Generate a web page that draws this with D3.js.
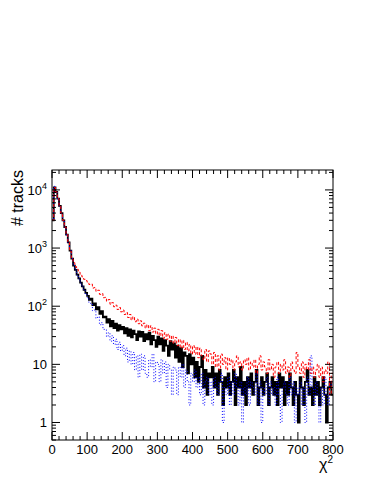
<!DOCTYPE html>
<html>
<head>
<meta charset="utf-8">
<script src="https://cdn.jsdelivr.net/npm/d3@7"></script>
<style>
  body { margin: 0; background: #fff; }
  text { font-family: "Liberation Sans", Arial, sans-serif; fill: #000; }
</style>
</head>
<body>
<div id="plot"></div>
<script>
// bin width 5, range 0..800
var binWidth = 5;

var black = [
  3000, 11000, 9200, 7100, 5300, 4000, 3000, 2300, 1700, 1250,
  900, 660, 500, 420, 350, 300, 255, 220, 192, 170,
  150, 128, 135, 104, 112, 88, 96, 74, 82, 64,
  66, 52, 60, 45, 56, 42, 50, 38, 47, 40,
  44, 34, 42, 31, 40, 29, 38, 33, 26, 37,
  30, 36, 25, 33, 27, 35, 22, 31, 26, 20,
  30, 22, 28, 17, 26, 21, 14, 25, 18, 23,
  13, 21, 11, 19, 9, 16, 14, 7, 15, 10,
  13, 6, 11, 5, 9, 14, 4, 8, 3, 7,
  6, 9, 4, 7, 3, 8, 5, 2, 6, 4,
  7, 3, 5, 8, 2, 6, 4, 9, 3, 5,
  2, 6, 4, 7, 3, 5, 8, 2, 4, 6,
  3, 5, 7, 2, 4, 6, 3, 5, 2, 7,
  4, 6, 2, 5, 3, 7, 4, 2, 5, 3,
  1, 6, 4, 2, 5, 8, 3, 4, 2, 6,
  3, 5, 2, 4, 6, 3, 1, 4, 5, 3
];

var red = [
  3000, 11000, 9200, 7100, 5300, 4000, 3000, 2300, 1700, 1250,
  880, 680, 560, 480, 430, 385, 345, 320, 290, 275,
  258, 236, 240, 205, 210, 180, 188, 160, 165, 140,
  142, 122, 130, 108, 115, 98, 104, 88, 95, 80,
  86, 72, 78, 64, 72, 58, 66, 54, 60, 50,
  56, 46, 51, 42, 48, 38, 46, 36, 42, 33,
  40, 31, 38, 28, 35, 27, 33, 25, 31, 23,
  29, 21, 27, 19, 26, 18, 24, 17, 22, 15,
  21, 15, 20, 13, 19, 14, 12, 18, 11, 17,
  15, 10, 16, 9, 14, 8, 15, 10, 13, 8,
  13, 10, 12, 8, 11, 14, 9, 11, 8, 12,
  10, 13, 8, 11, 9, 12, 7, 10, 14, 8,
  11, 9, 7, 12, 8, 10, 6, 9, 11, 7,
  10, 8, 12, 7, 9, 6, 11, 8, 7, 16,
  9, 7, 11, 6, 10, 8, 12, 7, 9, 6,
  8, 10, 6, 9, 5, 8, 7, 11, 3, 7
];

var blue = [
  3000, 11500, 9300, 7100, 5300, 4000, 3000, 2300, 1700, 1250,
  900, 660, 500, 420, 345, 295, 250, 215, 185, 162,
  140, 112, 110, 84, 86, 62, 66, 48, 52, 40,
  40, 30, 35, 25, 31, 22, 27, 18, 24, 17,
  21, 14, 19, 11, 17, 10, 16, 8, 14, 6,
  15, 8, 14, 7, 6, 12, 9, 15, 5, 11,
  10, 5, 12, 7, 11, 4, 10, 8, 3, 9,
  8, 3, 9, 6, 10, 4, 8, 5, 2, 7,
  5, 8, 4, 6, 3, 7, 2, 5, 6, 3,
  5, 2, 6, 4, 3, 5, 7, 1, 4, 3,
  6, 2, 5, 3, 7, 4, 2, 5, 1, 4,
  3, 6, 2, 5, 4, 3, 7, 2, 5, 1,
  4, 3, 6, 2, 5, 3, 4, 2, 6, 3,
  1, 4, 5, 3, 2, 6, 3, 5, 1, 4,
  3, 5, 2, 4, 1, 6, 3, 14, 4, 2,
  5, 3, 1, 4, 2, 6, 3, 2, 5, 4
];

var xMajor = [0, 100, 200, 300, 400, 500, 600, 700, 800];
var yDecades = [1, 10, 100, 1000, 10000];
var yLabels = [["1", ""], ["10", ""], ["10", "2"], ["10", "3"], ["10", "4"]];

var W = 374, H = 484;
var frameL = 52, frameR = 333, frameT = 170, frameB = 440;

var svg = d3.select("#plot").append("svg")
  .attr("width", W).attr("height", H);

var x = d3.scaleLinear().domain([0, 800]).range([frameL, frameR]);
var y = d3.scaleLog().domain([0.5, 2.2e4]).range([frameB, frameT]);

svg.append("clipPath").attr("id", "frameClip")
  .append("rect").attr("x", frameL).attr("y", frameT)
  .attr("width", frameR - frameL).attr("height", frameB - frameT);

// step path for a histogram
function histPoints(vals) {
  var pts = [];
  vals.forEach(function (v, i) {
    pts.push([i * binWidth, v]);
    pts.push([(i + 1) * binWidth, v]);
  });
  return pts;
}

var line = d3.line()
  .x(function (d) { return x(d[0]); })
  .y(function (d) { return y(d[1]); });

var g = svg.append("g").attr("clip-path", "url(#frameClip)");

g.append("path").datum(histPoints(black))
  .attr("d", line).attr("fill", "none")
  .attr("stroke", "#000").attr("stroke-width", 1.8);

g.append("path").datum(histPoints(blue))
  .attr("d", line).attr("fill", "none")
  .attr("stroke", "#0000ff").attr("stroke-width", 1)
  .attr("stroke-dasharray", "1,2");

g.append("path").datum(histPoints(red))
  .attr("d", line).attr("fill", "none")
  .attr("stroke", "#ff0000").attr("stroke-width", 1)
  .attr("stroke-dasharray", "3,2");

// frame
svg.append("rect").attr("x", frameL).attr("y", frameT)
  .attr("width", frameR - frameL).attr("height", frameB - frameT)
  .attr("fill", "none").attr("stroke", "#000").attr("stroke-width", 1);

// x ticks
var xMinor = d3.range(0, 801, 20).filter(function (v) { return v % 100 != 0; });
var tickG = svg.append("g").attr("stroke", "#000").attr("stroke-width", 1);

xMajor.forEach(function (v) {
  tickG.append("line").attr("x1", x(v)).attr("x2", x(v)).attr("y1", frameB).attr("y2", frameB - 8);
  tickG.append("line").attr("x1", x(v)).attr("x2", x(v)).attr("y1", frameT).attr("y2", frameT + 8);
});
xMinor.forEach(function (v) {
  tickG.append("line").attr("x1", x(v)).attr("x2", x(v)).attr("y1", frameB).attr("y2", frameB - 4);
  tickG.append("line").attr("x1", x(v)).attr("x2", x(v)).attr("y1", frameT).attr("y2", frameT + 4);
});

// y ticks (log)
var yMinor = [];
[0.1, 1, 10, 100, 1000, 10000].forEach(function (d) {
  for (var k = 2; k <= 9; k++) {
    var v = d * k;
    if (v >= 0.5 && v <= 2.2e4) yMinor.push(v);
  }
});
yDecades.forEach(function (v) {
  tickG.append("line").attr("x1", frameL).attr("x2", frameL + 8).attr("y1", y(v)).attr("y2", y(v));
  tickG.append("line").attr("x1", frameR).attr("x2", frameR - 8).attr("y1", y(v)).attr("y2", y(v));
});
yMinor.forEach(function (v) {
  tickG.append("line").attr("x1", frameL).attr("x2", frameL + 4).attr("y1", y(v)).attr("y2", y(v));
  tickG.append("line").attr("x1", frameR).attr("x2", frameR - 4).attr("y1", y(v)).attr("y2", y(v));
});

// x labels
svg.append("g").selectAll("text").data(xMajor).enter().append("text")
  .attr("x", function (d) { return x(d); })
  .attr("y", frameB + 14)
  .attr("text-anchor", "middle")
  .attr("font-size", 13)
  .text(function (d) { return d; });

// y labels
yDecades.forEach(function (v, i) {
  var t = svg.append("text")
    .attr("x", frameL - 5)
    .attr("y", y(v) + 5)
    .attr("text-anchor", "end")
    .attr("font-size", 13);
  t.append("tspan").text(yLabels[i][0]);
  if (yLabels[i][1]) {
    t.append("tspan").attr("font-size", 9).attr("dy", -6).text(yLabels[i][1]);
  }
});

// axis titles
svg.append("text")
  .attr("transform", "translate(23," + frameT + ") rotate(-90)")
  .attr("text-anchor", "end")
  .attr("font-size", 16)
  .text("# tracks");

var xt = svg.append("text")
  .attr("x", frameR)
  .attr("y", frameB + 30)
  .attr("text-anchor", "end")
  .attr("font-size", 16);
xt.append("tspan").text("\u03c7");
xt.append("tspan").attr("font-size", 10).attr("dy", -7).text("2");
</script>
</body>
</html>
